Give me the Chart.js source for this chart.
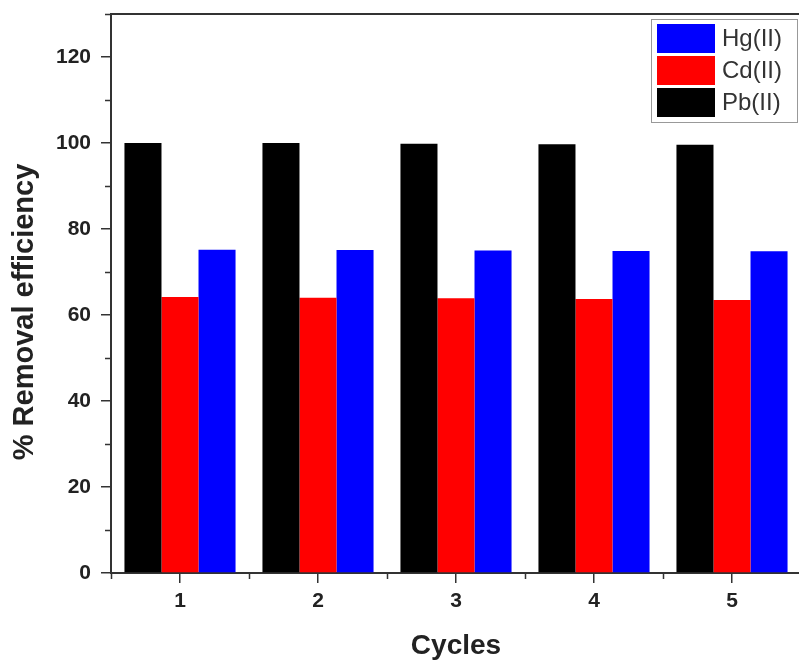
<!DOCTYPE html>
<html>
<head>
<meta charset="utf-8">
<title>Removal efficiency vs cycles</title>
<script src="https://cdn.jsdelivr.net/npm/chart.js@4.4.1/dist/chart.umd.min.js"></script>
<style>
    html, body { margin: 0; padding: 0; background: #fff; overflow: hidden; }
    #wrap { width: 806px; height: 661px; }
</style>
</head>
<body>
<div id="wrap"><canvas id="removal-chart" width="806" height="661"></canvas></div>
<script>
// ---- data ----
const cycles = ["1", "2", "3", "4", "5"];
const pbRemoval = [100, 100, 99.8, 99.7, 99.6];
const cdRemoval = [64.2, 64.0, 63.9, 63.7, 63.5];
const hgRemoval = [75.2, 75.1, 75.0, 74.9, 74.8];

const yMajorTicks = [0, 20, 40, 60, 80, 100, 120];
const yMinorTicks = [10, 30, 50, 70, 90, 110, 130];
const xMinorTicks = [-0.5, 0.5, 1.5, 2.5, 3.5, 4.5];

const AXIS_COLOR = "#333";
const TEXT_COLOR = "#222";
const FONT = "'Liberation Sans', Arial, sans-serif";

// minor ticks + top/right frame lines
const framePlugin = {
    id: "frame",
    afterDraw(chart) {
        const { ctx, chartArea: a, scales } = chart;
        ctx.save();
        ctx.strokeStyle = AXIS_COLOR;
        ctx.lineWidth = 2;
        ctx.beginPath();
        ctx.moveTo(a.left - 1, a.top);
        ctx.lineTo(a.right, a.top);
        ctx.lineTo(a.right, a.bottom);
        ctx.stroke();

        ctx.lineWidth = 1.5;
        ctx.beginPath();
        yMinorTicks.forEach(v => {
            const y = Math.round(scales.y.getPixelForValue(v)) + 0.5;
            ctx.moveTo(a.left, y);
            ctx.lineTo(a.left - 6, y);
        });
        xMinorTicks.forEach(v => {
            const x = Math.round(scales.x.getPixelForValue(v)) + 0.5;
            ctx.moveTo(x, a.bottom);
            ctx.lineTo(x, a.bottom + 6);
        });
        ctx.stroke();
        ctx.restore();
    }
};

// rotated y title, sitting a little below the axis middle
const yTitlePlugin = {
    id: "yTitle",
    afterDraw(chart) {
        const { ctx, chartArea: a } = chart;
        ctx.save();
        ctx.translate(25, a.top + (a.bottom - a.top) * 0.533);
        ctx.rotate(-Math.PI / 2);
        ctx.font = "bold 29px " + FONT;
        ctx.fillStyle = TEXT_COLOR;
        ctx.textAlign = "center";
        ctx.textBaseline = "middle";
        ctx.fillText("% Removal efficiency", 0, 0);
        ctx.restore();
    }
};

// boxed legend in the upper right corner, reversed order
const legendPlugin = {
    id: "boxLegend",
    afterDraw(chart) {
        const { ctx, chartArea: a } = chart;
        const sets = chart.data.datasets.slice().reverse();
        const left = a.right - 150;
        const top = a.top + 5;
        ctx.save();
        ctx.fillStyle = "#fff";
        ctx.fillRect(left, top, 146, 103);
        ctx.strokeStyle = "#999";
        ctx.lineWidth = 1;
        ctx.strokeRect(left + 0.5, top + 0.5, 146, 103);
        ctx.font = "24px " + FONT;
        ctx.textBaseline = "middle";
        ctx.textAlign = "left";
        sets.forEach((ds, i) => {
            const y = top + 5 + i * 32;
            ctx.fillStyle = ds.backgroundColor;
            ctx.fillRect(left + 6, y, 58, 29);
            ctx.fillStyle = "#333";
            ctx.fillText(ds.label, left + 71, y + 15);
        });
        ctx.restore();
    }
};

new Chart(document.getElementById("removal-chart"), {
    type: "bar",
    data: {
        labels: cycles,
        datasets: [
            { label: "Pb(II)", data: pbRemoval, backgroundColor: "#000000" },
            { label: "Cd(II)", data: cdRemoval, backgroundColor: "#ff0000" },
            { label: "Hg(II)", data: hgRemoval, backgroundColor: "#0000ff" }
        ]
    },
    options: {
        responsive: false,
        animation: false,
        devicePixelRatio: 1,
        datasets: { bar: { categoryPercentage: 0.805, barPercentage: 1.0, borderWidth: 0 } },
        layout: { padding: { left: 0, top: 14, right: 5, bottom: 0 } },
        plugins: { legend: { display: false }, tooltip: { enabled: false } },
        scales: {
            x: {
                z: 1,
                offset: true,
                grid: { drawOnChartArea: false, drawTicks: true, tickLength: 10, offset: false, color: AXIS_COLOR, lineWidth: 1.5 },
                border: { display: true, color: AXIS_COLOR, width: 2 },
                ticks: { color: TEXT_COLOR, padding: 6, font: { family: FONT, size: 21, weight: "bold" } },
                title: {
                    display: true,
                    text: "Cycles",
                    color: TEXT_COLOR,
                    font: { family: FONT, size: 28, weight: "bold", lineHeight: 1 },
                    padding: { top: 0, bottom: 1 }
                },
                afterFit: s => { s.height = 88; s.paddingLeft = 0; s.paddingRight = 0; }
            },
            y: {
                z: 1,
                min: 0,
                max: 130,
                grid: { drawOnChartArea: false, drawTicks: true, tickLength: 10, color: AXIS_COLOR, lineWidth: 1.5 },
                border: { display: true, color: AXIS_COLOR, width: 2 },
                ticks: { color: TEXT_COLOR, padding: 10, font: { family: FONT, size: 21, weight: "bold" } },
                afterBuildTicks: s => { s.ticks = yMajorTicks.map(v => ({ value: v })); },
                afterFit: s => { s.width = 111; s.paddingTop = 0; s.paddingBottom = 0; }
            }
        }
    },
    plugins: [framePlugin, yTitlePlugin, legendPlugin]
});
</script>
</body>
</html>
